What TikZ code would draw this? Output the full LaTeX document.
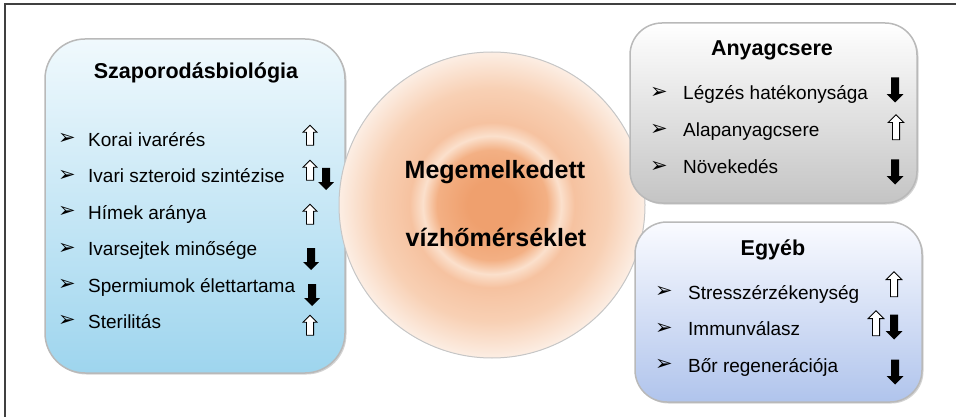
\documentclass[tikz,border=0pt]{standalone}
\usepackage{fontspec}
\setmainfont{Liberation Sans}
\newfontfamily\symfont{DejaVu Sans}
\usetikzlibrary{
    positioning,   % Relative positioning
    shapes.arrows, % Block arrows
    shadows        % Drop shadows
}
\definecolor{szapfent}{RGB}{240,249,253}
\definecolor{szaplent}{RGB}{158,213,238}
\definecolor{anyfent}{RGB}{255,255,255}
\definecolor{anylent}{RGB}{196,196,196}
\definecolor{egyfent}{RGB}{250,251,255}
\definecolor{egylent}{RGB}{176,196,236}
\definecolor{nap1}{RGB}{239,160,110}
\definecolor{nap2}{RGB}{243,176,132}
\definecolor{nap3}{RGB}{251,224,204}
\definecolor{nap4}{RGB}{246,194,160}
\definecolor{nap5}{RGB}{248,208,180}
\definecolor{nap6}{RGB}{252,238,228}
\pgfdeclareradialshading{napkor}{\pgfpoint{0bp}{0bp}}{%
    color(0bp)=(nap1); color(4bp)=(nap1); color(9bp)=(nap2); color(11.3bp)=(nap3);
    color(13.5bp)=(nap4); color(19bp)=(nap5); color(25bp)=(nap6); color(50bp)=(nap6)}
\tikzset{
    keret/.style={line width=1.3pt, draw=black!75},
    doboz/.style={draw=gray!55, line width=1.5pt,
        drop shadow={opacity=.35, shadow xshift=1.5pt, shadow yshift=-1.5pt}},
    cim/.style={font=\bfseries\fontsize{21.5}{24}\selectfont},
    kozep/.style={font=\bfseries\fontsize{25}{28}\selectfont},
    tetel/.style={anchor=base west, inner sep=0pt, font=\fontsize{19}{21}\selectfont},
    golyo/.style={inner sep=0pt, font=\symfont\fontsize{21}{23}\selectfont},
    fel/.style={single arrow, draw=black, line width=.8pt, fill=white, rotate=90,
        inner sep=3.2pt, minimum height=20pt, single arrow head extend=3.4pt},
    le/.style={single arrow, fill=black, rotate=-90,
        inner sep=3.8pt, minimum height=22pt, single arrow head extend=3.8pt},
    nagy/.style={minimum height=25pt, single arrow head extend=4.3pt}
}
\begin{document}
\begin{tikzpicture}[x=1pt,y=-1pt]
\useasboundingbox (0,0) rectangle (956,417);
\draw[keret] (5,417) -- (5,4) -- (956,4);

% Szaporodasbiologia
\node[doboz, rounded corners=40pt, top color=szapfent, bottom color=szaplent,
    minimum width=300pt, minimum height=334pt] (szap) at (195,206) {};
\node[cim] (szapcim) at (196,73) {Szaporodásbiológia};
\foreach \szoveg [count=\i] in {Korai ivarérés, Ivari szteroid szintézise, Hímek aránya,
    Ivarsejtek minősége, Spermiumok élettartama, Sterilitás}{
    \node[tetel] (szt\i) at (88,{110+36.4*\i}) {\szoveg};
    \node[golyo, base left=12pt of szt\i, yshift=1.5pt] (szb\i) {➢};
}
\node[fel] (szn1) at (310,137) {};
\node[fel] (szn2) at (310,172) {};
\node[le]  (szn3) at (326,177) {};
\node[fel] (szn4) at (310,216) {};
\node[le]  (szn5) at (311,257) {};
\node[le]  (szn6) at (312,293) {};
\node[fel] (szn7) at (310,327) {};

% kozepso kor
\node[circle, draw=gray!45, line width=1pt, minimum size=306pt, shading=napkor] (kor) at (492,205) {};
\node[kozep] (kor1) at (495,172) {Megemelkedett};
\node[kozep] (kor2) at (496,237) {vízhőmérséklet};

% Anyagcsere
\node[doboz, rounded corners=32pt, top color=anyfent, bottom color=anylent,
    minimum width=287pt, minimum height=180pt] (any) at (773.5,113) {};
\node[cim] (anycim) at (772,50) {Anyagcsere};
\foreach \szoveg [count=\i] in {Légzés hatékonysága, Alapanyagcsere, Növekedés}{
    \node[tetel] (ant\i) at (683,{63+37*\i}) {\szoveg};
    \node[golyo, base left=15pt of ant\i, yshift=1.5pt] (anb\i) {➢};
}
\node[le, nagy]  (ann1) at (895,88) {};
\node[fel, nagy] (ann2) at (896,129) {};
\node[le, nagy]  (ann3) at (895,170) {};

% Egyeb
\node[doboz, rounded corners=32pt, top color=egyfent, bottom color=egylent,
    minimum width=287pt, minimum height=180pt] (egy) at (778.5,312) {};
\node[cim] (egycim) at (773,250) {Egyéb};
\foreach \szoveg [count=\i] in {Stresszérzékenység, Immunválasz, Bőr regenerációja}{
    \node[tetel] (egt\i) at (688,{262.5+36.5*\i}) {\szoveg};
    \node[golyo, base left=15pt of egt\i, yshift=1.5pt] (egb\i) {➢};
}
\node[fel, nagy] (egn1) at (894,286) {};
\node[fel, nagy] (egn2) at (876,325) {};
\node[le, nagy]  (egn3) at (894,325) {};
\node[le, nagy]  (egn4) at (895,370) {};
\end{tikzpicture}
\end{document}
